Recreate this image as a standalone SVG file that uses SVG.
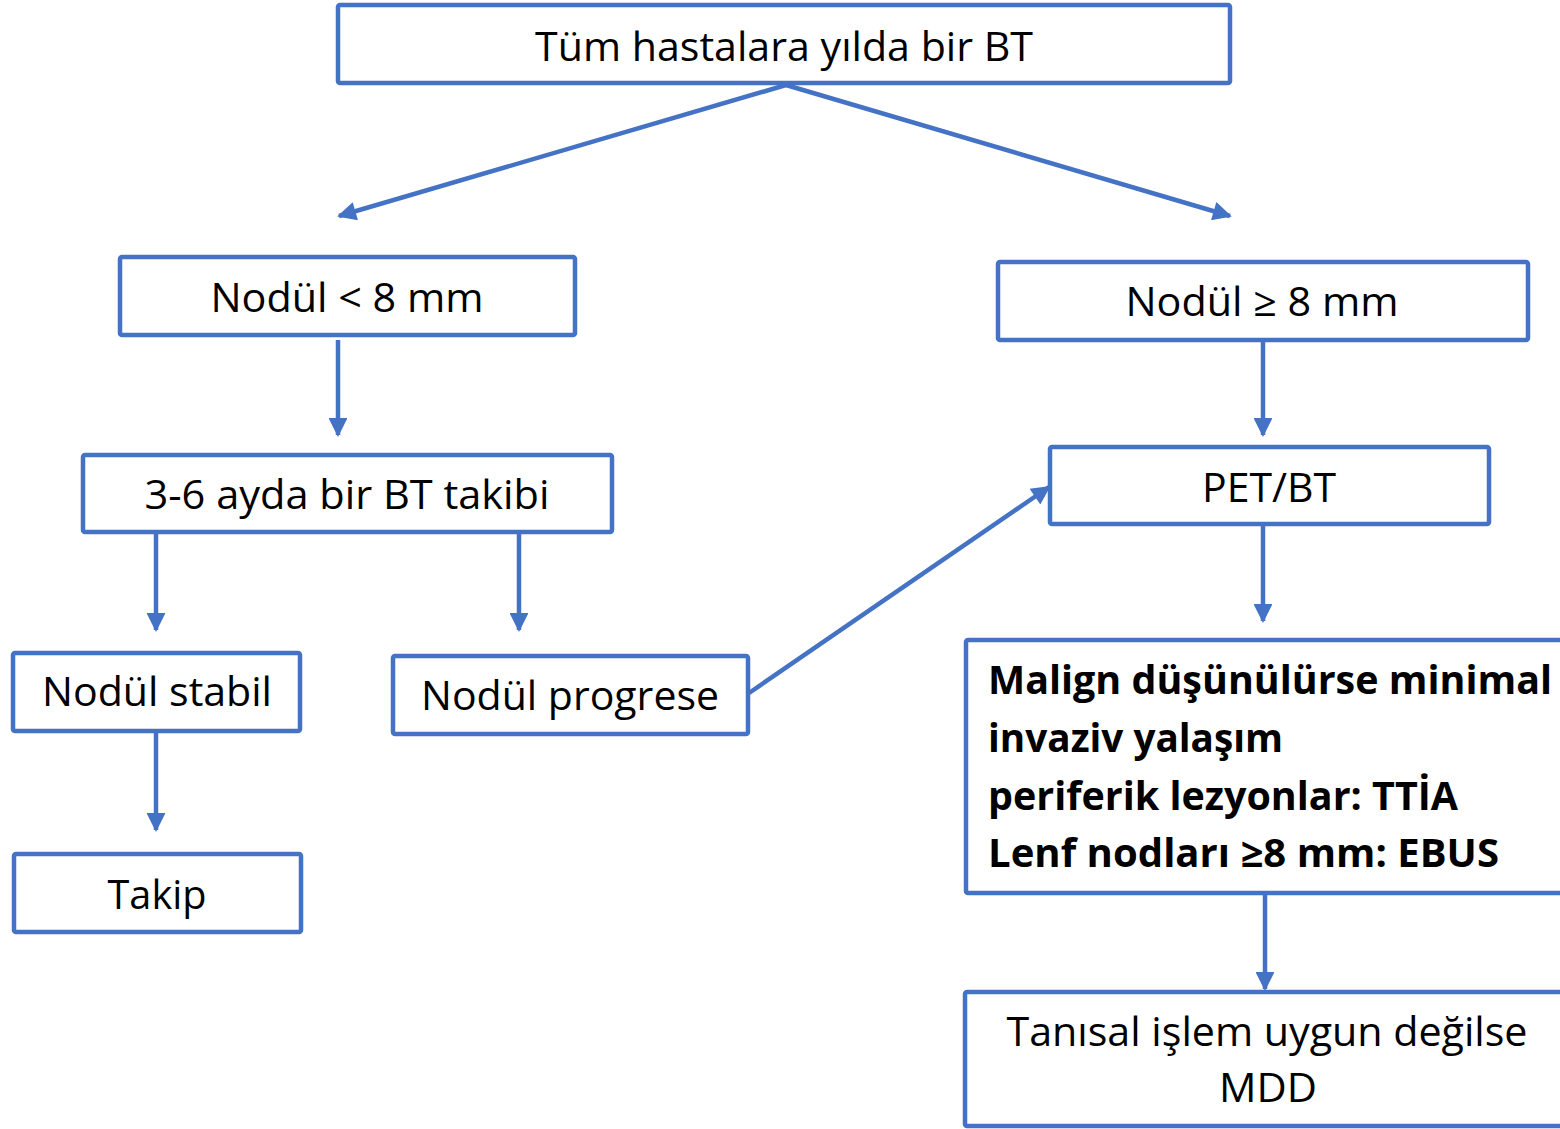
<svg xmlns="http://www.w3.org/2000/svg" width="1560" height="1129" viewBox="0 0 1560 1129">
<defs>
<style>
.box{fill:#fff;stroke:#4472C4;stroke-width:4.5;stroke-linejoin:round}
.t{font-family:"Open Sans","Noto Sans","Liberation Sans",sans-serif;font-size:40px;fill:#000}
.b{font-family:"Open Sans","Noto Sans","Liberation Sans",sans-serif;font-size:39px;font-weight:bold;fill:#000}
.c{fill:none;stroke:#4472C4;stroke-width:4.5}
</style>
<marker id="ah" viewBox="0 0 10 10" refX="9" refY="5" markerWidth="4.6" markerHeight="4.2" orient="auto" markerUnits="strokeWidth">
<path d="M0,0 L10,5 L0,10 Z" fill="#4472C4"/>
</marker>
</defs>
<rect width="1560" height="1129" fill="#fff"/>
<g id="connectors">
<line class="c" x1="786" y1="85" x2="339" y2="216" marker-end="url(#ah)"/>
<line class="c" x1="786" y1="85" x2="1230" y2="216" marker-end="url(#ah)"/>
<line class="c" x1="338" y1="340" x2="338" y2="435" marker-end="url(#ah)"/>
<line class="c" x1="1263" y1="342" x2="1263" y2="435" marker-end="url(#ah)"/>
<line class="c" x1="156" y1="534" x2="156" y2="630" marker-end="url(#ah)"/>
<line class="c" x1="519" y1="534" x2="519" y2="630" marker-end="url(#ah)"/>
<line class="c" x1="156" y1="733" x2="156" y2="830" marker-end="url(#ah)"/>
<line class="c" x1="749" y1="693" x2="1049" y2="487" marker-end="url(#ah)"/>
<line class="c" x1="1263" y1="526" x2="1263" y2="621" marker-end="url(#ah)"/>
<line class="c" x1="1265" y1="895" x2="1265" y2="989" marker-end="url(#ah)"/>
</g>
<g id="n1"><rect class="box" x="338" y="5" width="892" height="78" rx="2"/>
<text class="t" x="784" y="61" text-anchor="middle" textLength="498" lengthAdjust="spacingAndGlyphs">Tüm hastalara yılda bir BT</text></g>
<g id="n2"><rect class="box" x="120" y="257" width="455" height="78" rx="2"/>
<text class="t" x="347" y="312" text-anchor="middle" textLength="273" lengthAdjust="spacingAndGlyphs">Nodül &lt; 8 mm</text></g>
<g id="n3"><rect class="box" x="998" y="262" width="530" height="78" rx="2"/>
<text class="t" x="1262" y="316" text-anchor="middle" textLength="273" lengthAdjust="spacingAndGlyphs">Nodül ≥ 8 mm</text></g>
<g id="n4"><rect class="box" x="83" y="455" width="529" height="77" rx="2"/>
<text class="t" x="347" y="509" text-anchor="middle" textLength="405" lengthAdjust="spacingAndGlyphs">3-6 ayda bir BT takibi</text></g>
<g id="n5"><rect class="box" x="1050" y="447" width="439" height="77" rx="2"/>
<text class="t" x="1269" y="502" text-anchor="middle" textLength="134" lengthAdjust="spacingAndGlyphs">PET/BT</text></g>
<g id="n6"><rect class="box" x="13" y="653" width="287" height="78" rx="2"/>
<text class="t" x="157" y="706" text-anchor="middle" textLength="230" lengthAdjust="spacingAndGlyphs">Nodül stabil</text></g>
<g id="n7"><rect class="box" x="393" y="656" width="355" height="78" rx="2"/>
<text class="t" x="570" y="710" text-anchor="middle" textLength="298" lengthAdjust="spacingAndGlyphs">Nodül progrese</text></g>
<g id="n8"><rect class="box" x="14" y="854" width="287" height="78" rx="2"/>
<text class="t" x="157" y="909" text-anchor="middle" textLength="99" lengthAdjust="spacingAndGlyphs">Takip</text></g>
<g id="n9"><rect class="box" x="966" y="640" width="620" height="253" rx="2"/>
<text class="b" x="988" y="694" textLength="564" lengthAdjust="spacingAndGlyphs">Malign düşünülürse minimal</text>
<text class="b" x="988" y="752" textLength="295" lengthAdjust="spacingAndGlyphs">invaziv yalaşım</text>
<text class="b" x="988" y="810" textLength="470" lengthAdjust="spacingAndGlyphs">periferik lezyonlar: TTİA</text>
<text class="b" x="988" y="867" textLength="511" lengthAdjust="spacingAndGlyphs">Lenf nodları ≥8 mm: EBUS</text></g>
<g id="n10"><rect class="box" x="965" y="992" width="620" height="134" rx="2"/>
<text class="t" x="1267" y="1046" text-anchor="middle" textLength="521" lengthAdjust="spacingAndGlyphs">Tanısal işlem uygun değilse</text>
<text class="t" x="1268" y="1102" text-anchor="middle" textLength="98" lengthAdjust="spacingAndGlyphs">MDD</text></g>
</svg>
